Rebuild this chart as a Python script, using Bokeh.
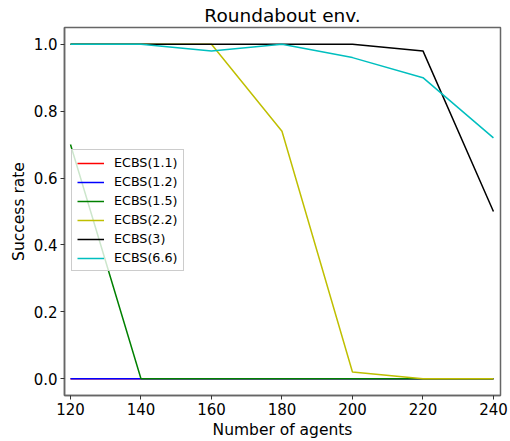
from bokeh.plotting import figure
from bokeh.embed import file_html
from bokeh.resources import INLINE
from bokeh.models import Range1d, FixedTicker, Legend, LegendItem

agents = [120, 140, 160, 180, 200, 220, 240]
ecbs_1_1 = [0, 0, 0, 0, 0, 0, 0]
ecbs_1_2 = [0, 0, 0, 0, 0, 0, 0]
ecbs_1_5 = [0.7, 0, 0, 0, 0, 0, 0]
ecbs_2_2 = [1.0, 1.0, 1.0, 0.74, 0.02, 0, 0]
ecbs_3 = [1.0, 1.0, 1.0, 1.0, 1.0, 0.98, 0.5]
ecbs_6_6 = [1.0, 1.0, 0.98, 1.0, 0.96, 0.9, 0.72]

series = [
    ("ECBS(1.1)", ecbs_1_1, "#ff0000"),
    ("ECBS(1.2)", ecbs_1_2, "#0000ff"),
    ("ECBS(1.5)", ecbs_1_5, "#008000"),
    ("ECBS(2.2)", ecbs_2_2, "#bfbf00"),
    ("ECBS(3)", ecbs_3, "#000000"),
    ("ECBS(6.6)", ecbs_6_6, "#00bfbf"),
]

p = figure(width=510, height=441, output_backend="svg", toolbar_location=None,
           x_range=Range1d(118.3, 242.0), y_range=Range1d(-0.05, 1.05),
           min_border_left=64, min_border_right=10, min_border_top=0, min_border_bottom=46)

p.title.text = "Roundabout env."
p.title.align = "center"
p.title.text_font = "DejaVu Sans"
p.title.text_font_size = "18.5px"
p.title.text_font_style = "normal"
p.title.text_color = "#000000"
p.title.standoff = 4
p.title.offset = 0

items = []
for name, ys, col in series:
    r = p.line(agents, ys, line_color=col, line_width=1.5)
    items.append(LegendItem(label=name, renderers=[r]))

legend = Legend(items=items, location=(7, 124))
legend.label_text_font = "DejaVu Sans"
legend.label_text_font_size = "12.7px"
legend.label_text_color = "#000000"
legend.border_line_color = "#cccccc"
legend.border_line_alpha = 1
legend.background_fill_alpha = 0.8
legend.label_height = 14
legend.glyph_height = 14
legend.glyph_width = 27
legend.label_standoff = 10
legend.spacing = 4
legend.padding = 5
legend.margin = 0
p.add_layout(legend, "center")

p.xgrid.visible = False
p.ygrid.visible = False
p.outline_line_color = "#666666"
p.outline_line_width = 1.5

p.xaxis.ticker = FixedTicker(ticks=agents)
p.yaxis.ticker = FixedTicker(ticks=[0.0, 0.2, 0.4, 0.6, 0.8, 1.0])
p.yaxis.major_label_overrides = {0.0: "0.0", 0.2: "0.2", 0.4: "0.4", 0.6: "0.6", 0.8: "0.8", 1.0: "1.0"}
p.xaxis.axis_label = "Number of agents"
p.yaxis.axis_label = "Success rate"
for ax in (p.xaxis[0], p.yaxis[0]):
    ax.axis_line_color = "#666666"
    ax.axis_line_width = 1.5
    ax.major_tick_in = 0
    ax.major_tick_out = 4
    ax.major_tick_line_color = "#333333"
    ax.minor_tick_line_color = None
    ax.major_label_text_font = "DejaVu Sans"
    ax.major_label_text_font_size = "15px"
    ax.major_label_text_color = "#000000"
    ax.axis_label_text_font = "DejaVu Sans"
    ax.axis_label_text_font_size = "15.5px"
    ax.axis_label_text_font_style = "normal"
    ax.axis_label_text_color = "#000000"
    ax.axis_label_standoff = 3
    ax.major_label_standoff = 3

open("out.html", "w").write(file_html(p, INLINE))
